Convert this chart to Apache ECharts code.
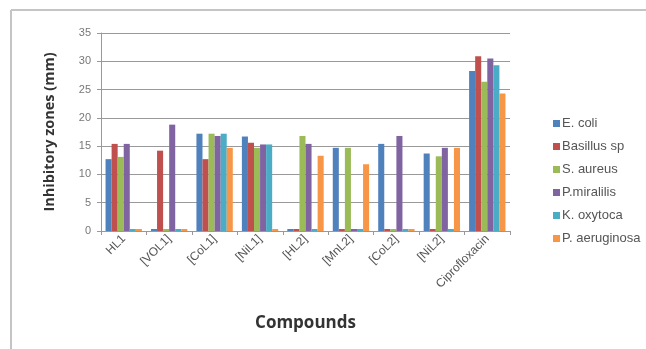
<!DOCTYPE html>
<html>
<head>
<meta charset="utf-8">
<script src="https://cdn.jsdelivr.net/npm/echarts@6/dist/echarts.min.js"></script>
<style>
html,body{margin:0;padding:0;background:#fff;}
#c{width:646px;height:349px;}
</style>
</head>
<body>
<div id="c"></div>
<script>
const categories = ['HL1','[VOL1]','[CoL1]','[NiL1]','[HL2]','[MnL2]','[CoL2]','[NiL2]','Ciprofloxacin'];
const seriesNames = ['E. coli','Basillus sp','S. aureus','P.miralilis','K. oxytoca','P. aeruginosa'];
const eColi       = [12.7, 0,    17.2, 16.7, 0,    14.7, 15.4, 13.7, 28.3];
const basillus    = [15.4, 14.2, 12.7, 15.6, 0,    0,    0,    0,    30.9];
const sAureus     = [13.1, 0,    17.2, 14.7, 16.8, 14.7, 0,    13.2, 26.4];
const pMiralilis  = [15.4, 18.8, 16.8, 15.3, 15.4, 0,    16.8, 14.7, 30.5];
const kOxytoca    = [0,    0,    17.2, 15.3, 0,    0,    0,    0,    29.3];
const pAeruginosa = [0,    0,    14.7, 0,    13.3, 11.8, 0,    14.7, 24.3];
const yTicks = [0,5,10,15,20,25,30,35];

const values = [eColi, basillus, sAureus, pMiralilis, kOxytoca, pAeruginosa];
const colors = ['#4F81BD','#C0504D','#9BBB59','#8064A2','#4BACC6','#F79646'];

const chart = echarts.init(document.getElementById('c'));
chart.setOption({
  animation: false,
  backgroundColor: '#fff',
  graphic: [
    {type:'line', shape:{x1:11,y1:10,x2:11,y2:349}, style:{stroke:'#c4c4c4', lineWidth:2}},
    {type:'line', shape:{x1:11,y1:10,x2:646,y2:10}, style:{stroke:'#c4c4c4', lineWidth:2}}
  ],
  grid: {left:101, right:136, top:33, bottom:118},
  legend: {
    orient:'vertical', left:548, top:112,
    itemWidth:7, itemHeight:7, itemGap:10,
    icon:'rect',
    textStyle:{fontFamily:'Liberation Sans, Arial', fontSize:13, color:'#555', padding:[0,0,0,-3]},
    data: seriesNames
  },
  xAxis: {
    type:'category', data:categories,
    name:'Compounds', nameLocation:'middle', nameGap:84,
    nameTextStyle:{fontFamily:'Open Sans, DejaVu Sans', fontWeight:'bold', fontSize:17, color:'#333'},
    axisLine:{lineStyle:{color:'#999'}},
    axisTick:{show:true, length:4, lineStyle:{color:'#999'}},
    axisLabel:{rotate:45, interval:0, fontFamily:'Liberation Sans, Arial', fontSize:12, color:'#555', margin:6}
  },
  yAxis: {
    type:'value', min:yTicks[0], max:yTicks[yTicks.length-1], interval:5,
    name:'Inhibitory zones (mm)', nameLocation:'middle', nameGap:44,
    nameTextStyle:{fontFamily:'Open Sans, DejaVu Sans', fontWeight:'bold', fontSize:14.5, color:'#333'},
    axisLine:{show:true, lineStyle:{color:'#999'}},
    axisTick:{show:true, length:4, lineStyle:{color:'#999'}},
    axisLabel:{fontFamily:'Liberation Sans, Arial', fontSize:11, color:'#777', margin:10},
    splitLine:{lineStyle:{color:'#999', width:1}}
  },
  series: seriesNames.map((n,i)=>({
    name:n, type:'bar', data:values[i],
    barGap:'0%', barCategoryGap:'20%', barMinHeight:2,
    itemStyle:{color:colors[i]}
  }))
});
</script>
</body>
</html>
